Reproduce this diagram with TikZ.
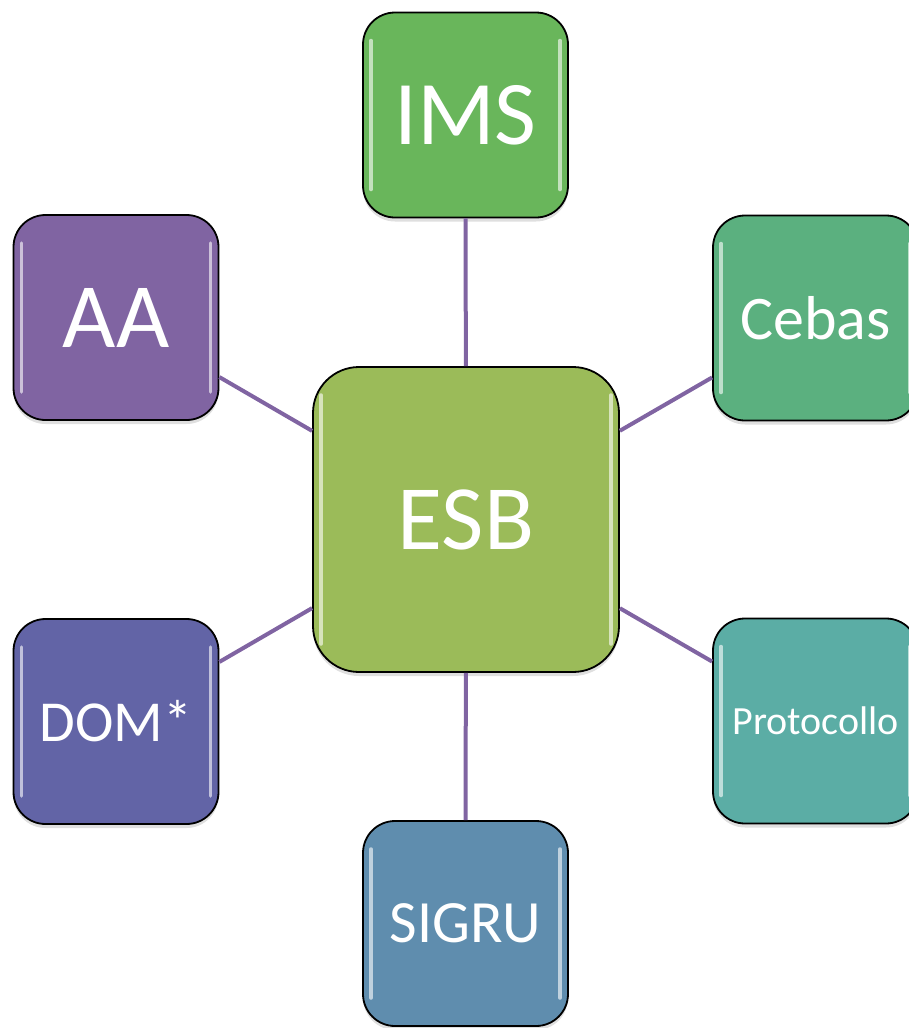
\documentclass[tikz,border=0pt]{standalone}
\usepackage{fontspec}
\setmainfont{Carlito}
\usepackage{tikz}
\usetikzlibrary{shapes,shadows}
\definecolor{cIms}{HTML}{69B65B}
\definecolor{cAa}{HTML}{8064A2}
\definecolor{cCebas}{HTML}{5BB07F}
\definecolor{cEsb}{HTML}{9BBB59}
\definecolor{cDom}{HTML}{6264A6}
\definecolor{cProt}{HTML}{5BADA5}
\definecolor{cSigru}{HTML}{5F8DAE}
\newcommand{\fsz}[1]{\fontsize{#1}{#1}\selectfont}

\begin{document}
\begin{tikzpicture}[x=1pt, y=-1pt]
      \tikzstyle{every node}=[text=white]
      \tikzstyle{gloss}=[path picture={
        \draw [white, opacity=.6, line width=3.5pt, line cap=round]
          ([xshift=8pt,yshift=-28pt]path picture bounding box.north west) -- ([xshift=8pt,yshift=28pt]path picture bounding box.south west)
          ([xshift=-8pt,yshift=-28pt]path picture bounding box.north east) -- ([xshift=-8pt,yshift=28pt]path picture bounding box.south east);}]
      \tikzstyle{box}=[draw=black, line width=1.8pt, rectangle, rounded corners=32pt,
        minimum width=205pt, minimum height=205pt, inner sep=0pt, gloss,
        drop shadow={opacity=.25, shadow xshift=0pt, shadow yshift=-4pt}]
      \tikzstyle{hub}=[box, rounded corners=46pt, minimum width=306pt, minimum height=305pt]
      \tikzstyle{link}=[draw=cAa, line width=4pt]
      \useasboundingbox (0,0) rectangle (909,1028);
      %%
  \node (esb) at (466,519.5) [hub, fill=cEsb] {\fsz{92}ESB};
  \node (ims) at (465.5,115) [box, fill=cIms] {\fsz{91}IMS};
  \node (aa) at (116,317.5) [box, fill=cAa] {\fsz{92}AA};
  \node (cebas) at (815.5,318) [box, fill=cCebas] {\fsz{62}Cebas};
  \node (dom) at (116,721.5) [box, fill=cDom] {\fsz{58}DOM*};
  \node (prot) at (815.5,721) [box, fill=cProt] {\fsz{40}Protocollo};
  \node (sigru) at (465.5,923.5) [box, fill=cSigru] {\fsz{60}SIGRU};
  \draw [link] (esb) -- (ims);
  \draw [link] (esb) -- (aa);
  \draw [link] (esb) -- (cebas);
  \draw [link] (esb) -- (dom);
  \draw [link] (esb) -- (prot);
  \draw [link] (esb) -- (sigru);
%
\end{tikzpicture}
\end{document}
